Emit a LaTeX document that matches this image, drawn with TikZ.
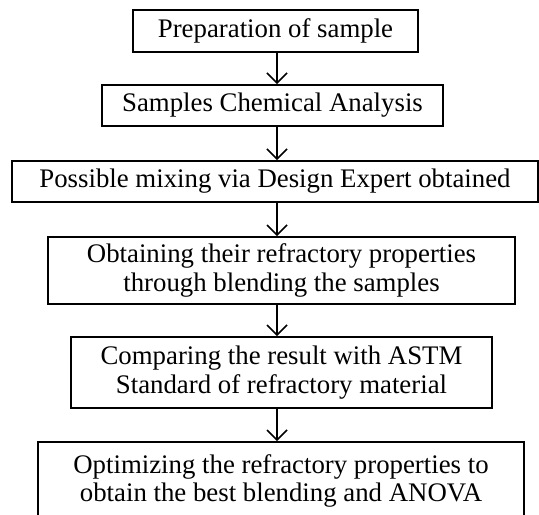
\documentclass[tikz,border=0pt]{standalone}
\usepackage{fontspec}
\setmainfont{Liberation Serif}
\usetikzlibrary{arrows.meta}
\begin{document}
\begin{tikzpicture}[x=0.5pt,y=-0.5pt,
  box/.style={draw, line width=0.95pt, inner sep=0pt, align=center, font=\fontsize{13.4}{14.2}\selectfont},
  flow/.style={-{Straight Barb[length=5pt,width=10pt]}, line width=0.75pt}]
\useasboundingbox (0,0) rectangle (539,514);
\node[box, minimum width=142.5pt, minimum height=21pt] (prep) at (275.5,31) {Preparation of sample};
\node[box, minimum width=170.5pt, minimum height=20.5pt] (chem) at (272.5,105.5) {Samples Chemical Analysis};
\node[box, minimum width=263pt, minimum height=20.5pt] (mix) at (275,181.5) {Possible mixing via Design Expert obtained};
\node[box, minimum width=233.5pt, minimum height=33.5pt] (blend) at (281.5,270.5) {Obtaining their refractory properties\\through blending the samples};
\node[box, minimum width=210.5pt, minimum height=35.5pt] (astm) at (281.5,372.5) {Comparing the result with ASTM\\Standard of refractory material};
\node[box, minimum width=243pt, minimum height=39pt] (opt) at (281,481) {Optimizing the refractory properties to\\obtain the best blending and ANOVA};
\coordinate (ax) at (277,0);
\draw[flow] (prep.south -| ax) -- (chem.north -| ax);
\draw[flow] (chem.south -| ax) -- (mix.north -| ax);
\draw[flow] (mix.south -| ax) -- (blend.north -| ax);
\draw[flow] (blend.south -| ax) -- (astm.north -| ax);
\draw[flow] (astm.south -| ax) -- (opt.north -| ax);
\end{tikzpicture}
\end{document}
